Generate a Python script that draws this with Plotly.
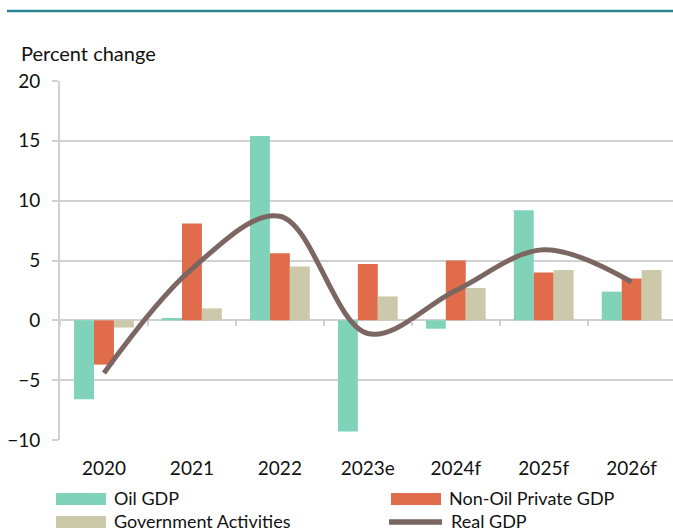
import plotly.graph_objects as go

categories = ["2020", "2021", "2022", "2023e", "2024f", "2025f", "2026f"]
oil_gdp = [-6.6, 0.2, 15.4, -9.3, -0.7, 9.2, 2.4]
non_oil_private = [-3.7, 8.1, 5.6, 4.7, 5.0, 4.0, 3.5]
gov_activities = [-0.6, 1.0, 4.5, 2.0, 2.7, 4.2, 4.2]
real_gdp = [-4.4, 4.3, 8.7, -1.1, 2.5, 5.9, 3.2]
y_ticks = [-10, -5, 0, 5, 10, 15, 20]
series_names = ["Oil GDP", "Non-Oil Private GDP", "Government Activities", "Real GDP"]

C_OIL = "#80D2B9"
C_NONOIL = "#E06C4B"
C_GOV = "#CBC9AA"
C_REAL = "#7B6661"
GRID = "#D0D0D0"
FONT = "Lato"
TXT = "#111111"

W, H = 673, 531
L, R, T, B = 60, 0, 81, 91
PW, PH = W - L - R, H - T - B


def px_x(px):
    return (px - L) / PW


def px_y(py):
    return (H - B - py) / PH


fig = go.Figure()
for name, vals, col in [(series_names[0], oil_gdp, C_OIL),
                        (series_names[1], non_oil_private, C_NONOIL),
                        (series_names[2], gov_activities, C_GOV)]:
    fig.add_trace(go.Bar(x=categories, y=vals, name=name, marker_color=col,
                         marker_line_width=0, showlegend=False))

fig.add_trace(go.Scatter(x=categories, y=real_gdp, name=series_names[3], mode="lines",
                         line=dict(color=C_REAL, width=5, shape="spline", smoothing=1),
                         xaxis="x2", showlegend=False))

xr = [-0.5, 6.47]
shapes = [dict(type="line", xref="paper", yref="paper", x0=px_x(7), x1=px_x(673),
               y0=px_y(11), y1=px_y(11), line=dict(color="#2B8794", width=2.5))]
annotations = [dict(text="Percent change", xref="paper", yref="paper",
                    x=px_x(19), y=px_y(53), xanchor="left", yanchor="middle",
                    showarrow=False, font=dict(size=20, color=TXT))]

# legend (manual, to match wide swatches)
legend_items = [
    (series_names[0], C_OIL, 56, 499, 498, "rect"),
    (series_names[1], C_NONOIL, 391, 499, 498, "rect"),
    (series_names[2], C_GOV, 56, 522, 521, "rect"),
    (series_names[3], C_REAL, 389, 522, 521, "line"),
]
for name, col, sx, cy, ty, kind in legend_items:
    if kind == "rect":
        shapes.append(dict(type="rect", xref="paper", yref="paper",
                           x0=px_x(sx), x1=px_x(sx + 50), y0=px_y(cy - 6), y1=px_y(cy + 6),
                           fillcolor=col, line=dict(width=0)))
    else:
        shapes.append(dict(type="line", xref="paper", yref="paper",
                           x0=px_x(sx), x1=px_x(sx + 53), y0=px_y(cy), y1=px_y(cy),
                           line=dict(color=col, width=5.5)))
    annotations.append(dict(text=name, xref="paper", yref="paper",
                            x=px_x(sx + 57 if kind == "rect" else sx + 61), y=px_y(ty),
                            xanchor="left", yanchor="middle", showarrow=False,
                            borderpad=0, font=dict(size=18, color=TXT)))

fig.update_layout(
    width=W, height=H,
    margin=dict(l=L, r=R, t=T, b=B),
    paper_bgcolor="white", plot_bgcolor="white",
    font=dict(family=FONT, size=19, color=TXT),
    barmode="group", bargap=0.32, bargroupgap=0,
    showlegend=False,
    xaxis=dict(type="category", range=xr, showgrid=False, showline=False,
               ticks="", tickfont=dict(size=19), ticklabelstandoff=15, zeroline=False,
               automargin=False),
    xaxis2=dict(type="category", range=xr, overlaying="x", anchor="free",
                position=px_y(320.3), side="bottom", tickson="boundaries", ticks="outside",
                ticklen=5, tickwidth=2, tickcolor=GRID, showticklabels=False,
                showgrid=False, showline=False, zeroline=False, automargin=False),
    yaxis=dict(range=[-10, 20], tickvals=y_ticks, showgrid=True, gridcolor=GRID,
               gridwidth=2, zeroline=False, showline=True, linecolor=GRID, linewidth=2,
               ticks="outside", ticklen=6, tickwidth=2, tickcolor=GRID,
               tickfont=dict(size=19), ticklabelstandoff=8, automargin=False),
    annotations=annotations,
    shapes=shapes,
)

fig.write_html(
    "out.html",
    config={"displayModeBar": False},
    post_script="document.body.style.margin='0';document.body.style.overflow='hidden';",
)
